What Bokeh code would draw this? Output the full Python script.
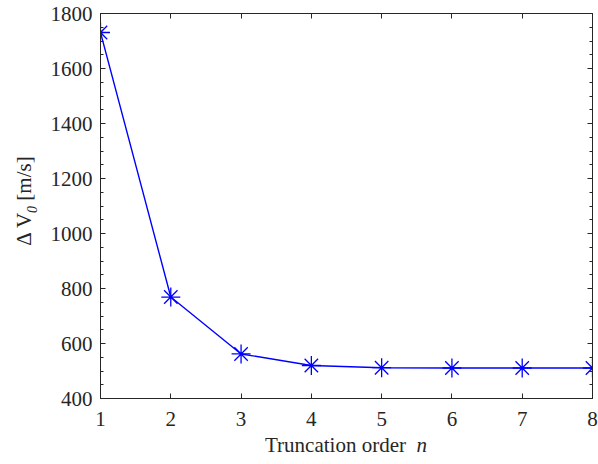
from bokeh.plotting import figure
from bokeh.models import Range1d, LinearAxis, SingleIntervalTicker, FixedTicker, Div
from bokeh.layouts import row, column
from bokeh.embed import file_html
from bokeh.resources import INLINE

orders = [1, 2, 3, 4, 5, 6, 7, 8]
delta_v = [1731, 769, 562, 520, 512, 511, 511, 511]
x_label_main = "Truncation order"
x_label_var = "n"
y_label_pre = "\u0394 V"
y_label_sub = "0"
y_label_unit = "[m/s]"

FONT = "Liberation Serif"
AX = "#262626"
FS = "21px"

YDIV_W = 45
PLOT_W = 598 - YDIV_W
PLOT_H = 435
XDIV_H = 464 - PLOT_H

p = figure(width=PLOT_W, height=PLOT_H, output_backend="svg", toolbar_location=None,
           x_range=Range1d(1, 8), y_range=Range1d(400, 1800),
           min_border_left=100 - YDIV_W, min_border_right=6, min_border_top=13,
           min_border_bottom=PLOT_H - 398,
           x_axis_location=None, y_axis_location=None)
p.grid.visible = False
p.outline_line_color = AX
p.outline_line_width = 1

def style(ax, labels=True, minor=False):
    ax.major_tick_in = 5
    ax.major_tick_out = 0
    ax.minor_tick_in = 3 if minor else 0
    ax.minor_tick_out = 0
    ax.axis_line_color = AX
    ax.major_tick_line_color = AX
    ax.minor_tick_line_color = AX if minor else None
    ax.major_label_text_font = FONT
    ax.major_label_text_font_size = FS
    ax.major_label_text_color = AX if labels else None

xt = FixedTicker(ticks=orders)
for loc, lab in (("below", True), ("above", False)):
    ax = LinearAxis(ticker=xt)
    style(ax, lab)
    ax.major_label_standoff = 13
    p.add_layout(ax, loc)

for loc, lab in (("left", True), ("right", False)):
    ax = LinearAxis(ticker=SingleIntervalTicker(interval=200, num_minor_ticks=4))
    style(ax, lab, minor=True)
    ax.major_label_standoff = 8
    p.add_layout(ax, loc)

p.line(orders, delta_v, line_color="#0000FF", line_width=1.4)
p.scatter(orders, delta_v, marker="asterisk", size=19, line_color="#0000FF", line_width=1.3)

base = f"font-family:'{FONT}'; font-size:{FS}; color:{AX}; white-space:nowrap;"

xdiv = Div(width=PLOT_W, height=XDIV_H, margin=0,
           text=(f'<div style="position:relative; width:{PLOT_W}px; height:{XDIV_H}px;">'
                 f'<div style="{base} position:absolute; left:{346 - YDIV_W}px; top:0px; '
                 f'line-height:20px; transform:translateX(-50%);">'
                 f'{x_label_main}&nbsp;&nbsp;<i>{x_label_var}</i></div></div>'))

ydiv = Div(width=YDIV_W, height=464, margin=0,
           text=(f'<div style="position:relative; width:{YDIV_W}px; height:464px;">'
                 f'<div style="{base} position:absolute; left:25px; top:201px; line-height:23px; '
                 f'transform:translate(-50%,-50%) rotate(-90deg);">'
                 f'{y_label_pre}<span style="position:relative; top:6px; font-size:14px; '
                 f'font-style:italic;">{y_label_sub}</span>&nbsp;{y_label_unit}</div></div>'))

layout = row(ydiv, column(p, xdiv, spacing=0), spacing=0)

open("out.html", "w").write(file_html(layout, INLINE))
